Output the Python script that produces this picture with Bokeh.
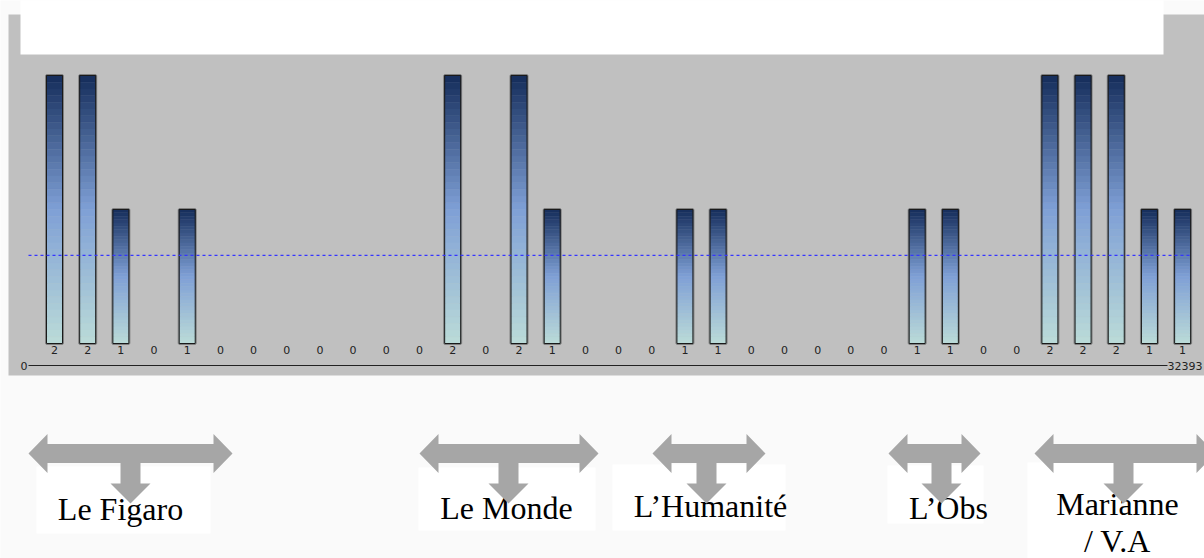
import numpy as np
from bokeh.plotting import figure
from bokeh.models import Range1d
from bokeh.core.properties import value
from bokeh.embed import file_html
from bokeh.resources import INLINE

# ---------------- data ----------------
counts = [2, 2, 1, 0, 1, 0, 0, 0, 0, 0, 0, 0, 2, 0, 2, 1, 0, 0, 0, 1, 1,
          0, 0, 0, 0, 0, 1, 1, 0, 0, 2, 2, 2, 1, 1]
axis_labels = ["0", "32393"]
group_lines = [["Le Figaro"], ["Le Monde"], ["L\u2019Humanit\u00e9"], ["L\u2019Obs"],
               ["Marianne", "/ V.A"]]

# ---------------- layout (pixels inside the figure) ----------------
W, H = 1204, 558
SLOT = 33.18          # px between bar centres
X0 = 54               # px of first bar centre
BASE = 343            # px of bar base (from top)
UNIT = 134            # px per count
BAR_W = 16

# arrows: left tip, right tip, stem centre
arrows = [(28, 232, 130), (419, 598, 508), (652, 765, 706), (888, 980, 941), (1034, 1215, 1123)]
# label boxes: left, right, top, bottom
boxes = [(36, 210, 466, 533), (418, 595, 467, 530), (612, 785, 464, 530),
         (887, 983, 465, 523), (1027, 1215, 462, 570)]
text_x = [120, 506, 710, 948, 1117]
text_y = [508, 507, 505, 507, 503]
LINE_GAP = 37

n = len(counts)
idx = np.arange(n)

p = figure(width=W, height=H, output_backend="svg", toolbar_location=None,
           x_range=Range1d(-X0 / SLOT, (W - X0) / SLOT),
           y_range=Range1d(-(H - BASE) / UNIT, BASE / UNIT),
           x_axis_location=None, y_axis_location=None, min_border=0,
           background_fill_color="#fafafa", border_fill_color="#fafafa",
           outline_line_color=None)
p.grid.visible = False
p.extra_x_ranges = {"px": Range1d(0, W)}
p.extra_y_ranges = {"px": Range1d(H, 0)}

# grey panel and white top box
p.quad(left=[8], right=[W + 2], top=[14], bottom=[375], x_range_name="px", y_range_name="px",
       fill_color="#c0c0c0", line_color=None)
p.quad(left=[20], right=[1163], top=[-2], bottom=[54], x_range_name="px", y_range_name="px",
       fill_color="#ffffff", line_color=None)

# ---------------- gradient bars ----------------
hw = BAR_W / 2 / SLOT
stops = [(0.0, (0x15, 0x2d, 0x5b)), (0.5, (0x7f, 0xa0, 0xd6)), (1.0, (0xbb, 0xdb, 0xd8))]

def grad(f):
    for (a, ca), (b, cb) in zip(stops[:-1], stops[1:]):
        if a <= f <= b:
            t = (f - a) / (b - a)
            c = [int(round(ca[k] + (cb[k] - ca[k]) * t)) for k in range(3)]
            return "#%02x%02x%02x" % tuple(c)
    return "#%02x%02x%02x" % stops[-1][1]

bars = [(i, v) for i, v in zip(idx, counts) if v > 0]
bx = np.array([b[0] for b in bars], dtype=float)
bv = np.array([b[1] for b in bars], dtype=float)

p.quad(left=bx - hw, right=bx + hw, top=bv, bottom=np.zeros_like(bv),
       fill_color=None, line_color="#808080", line_width=3)

NSEG = 40
L, R, T, B, C = [], [], [], [], []
for x, v in zip(bx, bv):
    for s in range(NSEG):
        f0, f1 = s / NSEG, (s + 1) / NSEG
        L.append(x - hw); R.append(x + hw)
        T.append(v * (1 - f0)); B.append(v * (1 - f1))
        C.append(grad((f0 + f1) / 2))
p.quad(left=L, right=R, top=T, bottom=B, fill_color=C, line_color=C, line_width=0.5)
p.quad(left=bx - hw, right=bx + hw, top=bv, bottom=np.zeros_like(bv),
       fill_color=None, line_color="#1a1a1a", line_width=1)

# value labels
p.text(x=idx, y=[-6 / UNIT] * n, text=[str(c) for c in counts],
       text_font=value("DejaVu Sans"), text_font_size="11px", text_color="#222222",
       text_align="center", text_baseline="middle")

# mean line
mean = float(np.mean(counts))
p.line(x=[-(X0 - 28) / SLOT, (1190 - X0) / SLOT], y=[mean, mean], line_color="#3535ff",
       line_dash="3 3", line_width=1.2)

# position axis
p.line(x=[28, 1167], y=[365, 365], x_range_name="px", y_range_name="px",
       line_color="#222222", line_width=1.2)
p.text(x=[27], y=[365], text=[axis_labels[0]], x_range_name="px", y_range_name="px",
       text_align="right", text_font=value("DejaVu Sans"), text_font_size="11px",
       text_color="#222222", text_baseline="middle")
p.text(x=[1202], y=[365], text=[axis_labels[1]], x_range_name="px", y_range_name="px",
       text_align="right", text_font=value("DejaVu Sans"), text_font_size="11px",
       text_color="#222222", text_baseline="middle")

# ---------------- group annotations ----------------
p.quad(left=[b[0] for b in boxes], right=[b[1] for b in boxes],
       top=[b[2] for b in boxes], bottom=[b[3] for b in boxes],
       x_range_name="px", y_range_name="px", fill_color="#ffffff", line_color=None)

tx, ty, tt = [], [], []
for lines, x, y in zip(group_lines, text_x, text_y):
    for k, line in enumerate(lines):
        tx.append(x); ty.append(y + k * LINE_GAP); tt.append(line)
p.text(x=tx, y=ty, text=tt, x_range_name="px", y_range_name="px",
       text_font=value("Liberation Serif"), text_font_size="32px", text_color="#000000",
       text_align="center", text_baseline="alphabetic")

CY, SH, HH, HL = 453, 9.5, 19.5, 19
SW, TH, SB, TIP = 10, 20, 483, 503
xs, ys = [], []
for l, r, sx in arrows:
    xs.append([l, l + HL, l + HL, r - HL, r - HL, r, r - HL, r - HL,
               sx + SW, sx + SW, sx + TH, sx, sx - TH, sx - SW, sx - SW, l + HL, l + HL])
    ys.append([CY, CY - HH, CY - SH, CY - SH, CY - HH, CY, CY + HH, CY + SH,
               CY + SH, SB, SB, TIP, SB, SB, CY + SH, CY + SH, CY + HH])
p.patches(xs=xs, ys=ys, x_range_name="px", y_range_name="px",
          fill_color="#a6a6a6", line_color=None)

open("out.html", "w").write(file_html(p, INLINE))
